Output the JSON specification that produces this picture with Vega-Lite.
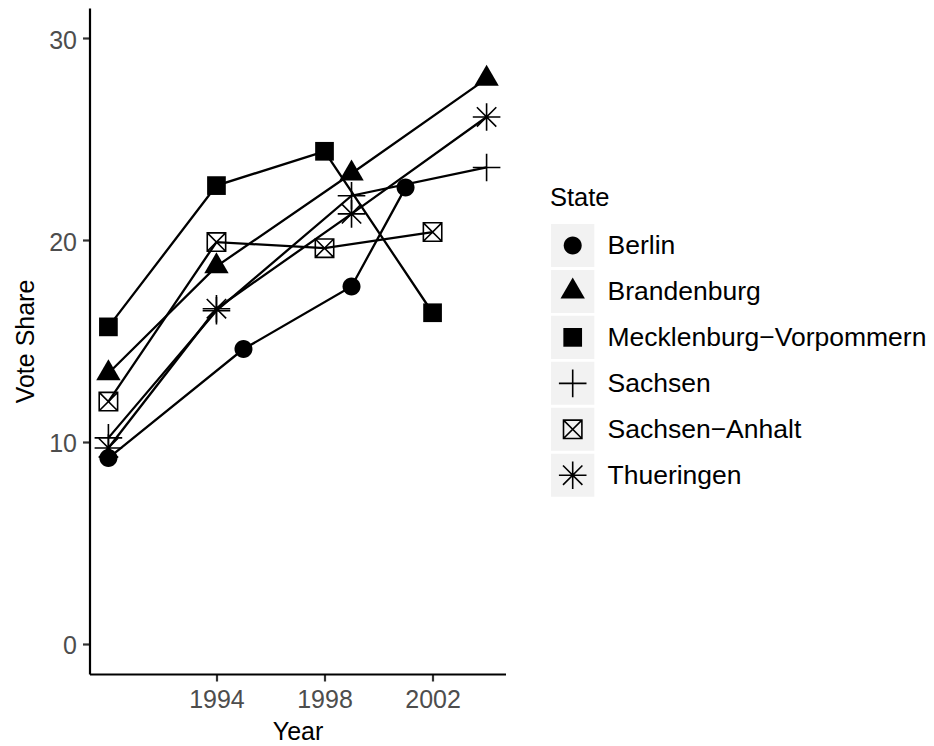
{
  "$schema": "https://vega.github.io/schema/vega-lite/v6.json",
  "background": "white",
  "padding": {"left": 13.5, "top": 8, "right": 0, "bottom": 0},
  "bounds": "flush",
  "spacing": 45.5,
  "config": {
    "font": "Liberation Sans",
    "view": {"stroke": null},
    "axis": {
      "grid": false,
      "domainColor": "black",
      "domainWidth": 2.2,
      "tickColor": "#333333",
      "tickWidth": 2.2,
      "tickSize": 7,
      "labelColor": "#4D4D4D",
      "labelFont": "Liberation Sans",
      "labelFontSize": 25,
      "labelFlush": false,
      "labelOverlap": false,
      "titleFont": "Liberation Sans",
      "titleFontSize": 25,
      "titleFontWeight": "normal",
      "titleColor": "black"
    }
  },
  "datasets": {
    "votes": [
      {"State": "Berlin", "Year": 1990, "Share": 9.2},
      {"State": "Berlin", "Year": 1995, "Share": 14.6},
      {"State": "Berlin", "Year": 1999, "Share": 17.7},
      {"State": "Berlin", "Year": 2001, "Share": 22.6},
      {"State": "Brandenburg", "Year": 1990, "Share": 13.4},
      {"State": "Brandenburg", "Year": 1994, "Share": 18.7},
      {"State": "Brandenburg", "Year": 1999, "Share": 23.3},
      {"State": "Brandenburg", "Year": 2004, "Share": 28.0},
      {"State": "Mecklenburg−Vorpommern", "Year": 1990, "Share": 15.7},
      {"State": "Mecklenburg−Vorpommern", "Year": 1994, "Share": 22.7},
      {"State": "Mecklenburg−Vorpommern", "Year": 1998, "Share": 24.4},
      {"State": "Mecklenburg−Vorpommern", "Year": 2002, "Share": 16.4},
      {"State": "Sachsen", "Year": 1990, "Share": 10.2},
      {"State": "Sachsen", "Year": 1994, "Share": 16.5},
      {"State": "Sachsen", "Year": 1999, "Share": 22.2},
      {"State": "Sachsen", "Year": 2004, "Share": 23.6},
      {"State": "Sachsen−Anhalt", "Year": 1990, "Share": 12.0},
      {"State": "Sachsen−Anhalt", "Year": 1994, "Share": 19.9},
      {"State": "Sachsen−Anhalt", "Year": 1998, "Share": 19.6},
      {"State": "Sachsen−Anhalt", "Year": 2002, "Share": 20.4},
      {"State": "Thueringen", "Year": 1990, "Share": 9.7},
      {"State": "Thueringen", "Year": 1994, "Share": 16.6},
      {"State": "Thueringen", "Year": 1999, "Share": 21.3},
      {"State": "Thueringen", "Year": 2004, "Share": 26.1}
    ]
  },
  "hconcat": [
    {
      "width": 416,
      "height": 666,
      "data": {"name": "votes"},
      "encoding": {
        "x": {
          "field": "Year",
          "type": "quantitative",
          "scale": {"domain": [1989.3, 2004.7], "nice": false, "zero": false},
          "axis": {
            "title": "Year",
            "values": [1994, 1998, 2002],
            "format": "d",
            "labelBaseline": "alphabetic",
            "labelPadding": 26,
            "titleX": 208,
            "titleY": 65,
            "titleAlign": "center",
            "titleBaseline": "alphabetic"
          }
        },
        "y": {
          "field": "Share",
          "type": "quantitative",
          "scale": {"domain": [-1.5, 31.5], "nice": false, "zero": false},
          "axis": {
            "title": "Vote Share",
            "values": [0, 10, 20, 30],
            "labelBaseline": "alphabetic",
            "labelOffset": 10,
            "labelPadding": 6,
            "titleX": -56,
            "titleY": 333,
            "titleAngle": -90,
            "titleAlign": "center",
            "titleBaseline": "alphabetic"
          }
        }
      },
      "layer": [
        {
          "mark": {"type": "line", "stroke": "black", "strokeWidth": 2.3},
          "encoding": {"detail": {"field": "State", "type": "nominal"}}
        },
        {
          "transform": [{"filter": {"field": "State", "oneOf": ["Berlin", "Brandenburg", "Mecklenburg−Vorpommern"]}}],
          "mark": {"type": "point", "filled": true, "fill": "black", "strokeWidth": 0, "size": 400, "opacity": 1},
          "encoding": {
            "shape": {
              "field": "State",
              "type": "nominal",
              "legend": null,
              "scale": {
                "domain": ["Berlin", "Brandenburg", "Mecklenburg−Vorpommern", "Sachsen", "Sachsen−Anhalt", "Thueringen"],
                "range": [
                  "M-0.9,0A0.9,0.9,0,1,0,0.9,0A0.9,0.9,0,1,0,-0.9,0Z",
                  "M0,-1.4L1.22,0.7L-1.22,0.7Z",
                  "M-0.935,-0.935H0.935V0.935H-0.935Z",
                  "M-1.38,0H1.38M0,-1.38V1.38",
                  "M-0.92,-0.92H0.92V0.92H-0.92ZM-0.92,-0.92L0.92,0.92M0.92,-0.92L-0.92,0.92",
                  "M-1.38,0H1.38M0,-1.38V1.38M-0.97,-0.97L0.97,0.97M0.97,-0.97L-0.97,0.97"
                ]
              }
            }
          }
        },
        {
          "transform": [{"filter": {"field": "State", "oneOf": ["Sachsen", "Sachsen−Anhalt", "Thueringen"]}}],
          "mark": {"type": "point", "filled": false, "stroke": "black", "strokeWidth": 1.6, "size": 400, "opacity": 1},
          "encoding": {
            "shape": {
              "field": "State",
              "type": "nominal",
              "legend": null,
              "scale": {
                "domain": ["Berlin", "Brandenburg", "Mecklenburg−Vorpommern", "Sachsen", "Sachsen−Anhalt", "Thueringen"],
                "range": [
                  "M-0.9,0A0.9,0.9,0,1,0,0.9,0A0.9,0.9,0,1,0,-0.9,0Z",
                  "M0,-1.4L1.22,0.7L-1.22,0.7Z",
                  "M-0.935,-0.935H0.935V0.935H-0.935Z",
                  "M-1.38,0H1.38M0,-1.38V1.38",
                  "M-0.92,-0.92H0.92V0.92H-0.92ZM-0.92,-0.92L0.92,0.92M0.92,-0.92L-0.92,0.92",
                  "M-1.38,0H1.38M0,-1.38V1.38M-0.97,-0.97L0.97,0.97M0.97,-0.97L-0.97,0.97"
                ]
              }
            }
          }
        }
      ]
    },
    {
      "width": 384,
      "height": 666,
      "data": {"name": "votes"},
      "transform": [{"aggregate": [{"op": "count", "as": "n"}], "groupby": ["State"]}],
      "encoding": {
        "y": {
          "field": "State",
          "type": "nominal",
          "axis": null,
          "scale": {
            "domain": ["Berlin", "Brandenburg", "Mecklenburg−Vorpommern", "Sachsen", "Sachsen−Anhalt", "Thueringen"],
            "range": [214.5, 490.2],
            "paddingInner": 0.063,
            "paddingOuter": 0.0315
          }
        }
      },
      "layer": [
        {
          "mark": {"type": "rect", "fill": "#F2F2F2"},
          "encoding": {"x": {"value": 0}, "x2": {"value": 43.3}}
        },
        {
          "transform": [{"filter": {"field": "State", "oneOf": ["Berlin", "Brandenburg", "Mecklenburg−Vorpommern"]}}],
          "mark": {"type": "point", "filled": true, "fill": "black", "strokeWidth": 0, "size": 400, "opacity": 1},
          "encoding": {
            "x": {"value": 21.7},
            "shape": {
              "field": "State",
              "type": "nominal",
              "legend": null,
              "scale": {
                "domain": ["Berlin", "Brandenburg", "Mecklenburg−Vorpommern", "Sachsen", "Sachsen−Anhalt", "Thueringen"],
                "range": [
                  "M-0.9,0A0.9,0.9,0,1,0,0.9,0A0.9,0.9,0,1,0,-0.9,0Z",
                  "M0,-1.4L1.22,0.7L-1.22,0.7Z",
                  "M-0.935,-0.935H0.935V0.935H-0.935Z",
                  "M-1.38,0H1.38M0,-1.38V1.38",
                  "M-0.92,-0.92H0.92V0.92H-0.92ZM-0.92,-0.92L0.92,0.92M0.92,-0.92L-0.92,0.92",
                  "M-1.38,0H1.38M0,-1.38V1.38M-0.97,-0.97L0.97,0.97M0.97,-0.97L-0.97,0.97"
                ]
              }
            }
          }
        },
        {
          "transform": [{"filter": {"field": "State", "oneOf": ["Sachsen", "Sachsen−Anhalt", "Thueringen"]}}],
          "mark": {"type": "point", "filled": false, "stroke": "black", "strokeWidth": 1.6, "size": 400, "opacity": 1},
          "encoding": {
            "x": {"value": 21.7},
            "shape": {
              "field": "State",
              "type": "nominal",
              "legend": null,
              "scale": {
                "domain": ["Berlin", "Brandenburg", "Mecklenburg−Vorpommern", "Sachsen", "Sachsen−Anhalt", "Thueringen"],
                "range": [
                  "M-0.9,0A0.9,0.9,0,1,0,0.9,0A0.9,0.9,0,1,0,-0.9,0Z",
                  "M0,-1.4L1.22,0.7L-1.22,0.7Z",
                  "M-0.935,-0.935H0.935V0.935H-0.935Z",
                  "M-1.38,0H1.38M0,-1.38V1.38",
                  "M-0.92,-0.92H0.92V0.92H-0.92ZM-0.92,-0.92L0.92,0.92M0.92,-0.92L-0.92,0.92",
                  "M-1.38,0H1.38M0,-1.38V1.38M-0.97,-0.97L0.97,0.97M0.97,-0.97L-0.97,0.97"
                ]
              }
            }
          }
        },
        {
          "mark": {"type": "text", "align": "left", "baseline": "alphabetic", "dy": 9, "fontSize": 26.5, "font": "Liberation Sans", "color": "black"},
          "encoding": {"x": {"value": 56.5}, "text": {"field": "State", "type": "nominal"}}
        },
        {
          "data": {"values": [{"label": "State"}]},
          "mark": {"type": "text", "align": "left", "baseline": "alphabetic", "fontSize": 25.5, "font": "Liberation Sans", "color": "black"},
          "encoding": {"x": {"value": -1}, "y": {"value": 197.7}, "text": {"field": "label", "type": "nominal"}}
        }
      ]
    }
  ]
}
